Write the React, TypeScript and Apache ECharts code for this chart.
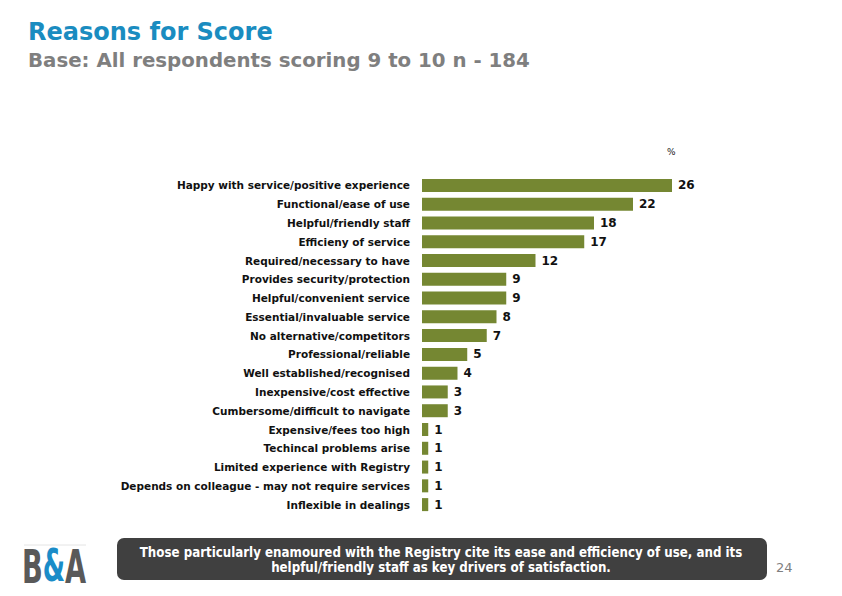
import React, { useEffect, useRef } from "react";
import * as echarts from "echarts";

const categories = [
  "Happy with service/positive experience",
  "Functional/ease of use",
  "Helpful/friendly staff",
  "Efficieny of service",
  "Required/necessary to have",
  "Provides security/protection",
  "Helpful/convenient service",
  "Essential/invaluable service",
  "No alternative/competitors",
  "Professional/reliable",
  "Well established/recognised",
  "Inexpensive/cost effective",
  "Cumbersome/difficult to navigate",
  "Expensive/fees too high",
  "Techincal problems arise",
  "Limited experience with Registry",
  "Depends on colleague - may not require services",
  "Inflexible in dealings",
];
const values = [26, 22, 18, 17, 12, 9, 9, 8, 7, 5, 4, 3, 3, 1, 1, 1, 1, 1];

const title = "Reasons for Score";
const subtitle = "Base: All respondents scoring 9 to 10 n - 184";
const unitLabel = "%";
const calloutLines = [
  "Those particularly enamoured with the Registry cite its ease and efficiency of use, and its",
  "helpful/friendly staff as key drivers of satisfaction.",
];
const pageNumber = "24";

const FONT = "Verdana, 'DejaVu Sans', sans-serif";
const COND = "'DejaVu Sans Condensed', 'DejaVu Sans', sans-serif";
const BAR = "#758732";

export default function App() {
  const ref = useRef<HTMLDivElement>(null);
  useEffect(() => {
    if (!ref.current) return;
    const chart = echarts.init(ref.current, undefined, { renderer: "svg" });
    chart.setOption({
      animation: false,
      backgroundColor: "#ffffff",
      grid: { left: 422, top: 176, width: 289, height: 338, containLabel: false },
      xAxis: {
        type: "value",
        min: 0.36,
        max: 30,
        show: false,
      },
      yAxis: {
        type: "category",
        data: categories,
        inverse: true,
        axisLine: { show: false },
        axisTick: { show: false },
        axisLabel: {
          margin: 12,
          fontFamily: FONT,
          fontSize: 10.5,
          fontWeight: "bold",
          color: "#111111",
        },
      },
      series: [
        {
          type: "bar",
          data: values,
          barWidth: 13,
          itemStyle: { color: BAR },
          label: {
            show: true,
            position: "right",
            distance: 6,
            fontFamily: FONT,
            fontSize: 12,
            fontWeight: "bold",
            color: "#111111",
          },
        },
      ],
      graphic: [
        {
          type: "text",
          left: 28,
          top: 20,
          style: { text: title, fontFamily: FONT, fontSize: 24, fontWeight: "bold", fill: "#1a8cc0" },
        },
        {
          type: "text",
          left: 28,
          top: 50,
          style: { text: subtitle, fontFamily: FONT, fontSize: 19.8, fontWeight: "bold", fill: "#7f7f7f" },
        },
        {
          type: "text",
          x: 667,
          y: 147,
          style: { text: unitLabel, fontFamily: FONT, fontSize: 9, fill: "#222222" },
        },
        {
          type: "rect",
          shape: { x: 117, y: 538, width: 650, height: 42, r: 7 },
          style: { fill: "#404040" },
        },
        {
          type: "text",
          x: 441,
          y: 552,
          style: {
            text: calloutLines[0],
            fontFamily: COND,
            fontSize: 13.2,
            fontWeight: "bold",
            fill: "#ffffff",
            align: "center",
            verticalAlign: "middle",
          },
        },
        {
          type: "text",
          x: 441,
          y: 567,
          style: {
            text: calloutLines[1],
            fontFamily: COND,
            fontSize: 13.2,
            fontWeight: "bold",
            fill: "#ffffff",
            align: "center",
            verticalAlign: "middle",
          },
        },
        {
          type: "text",
          x: 776,
          y: 567,
          style: { text: pageNumber, fontFamily: FONT, fontSize: 13, fill: "#7f7f7f", verticalAlign: "middle" },
        },
        {
          type: "line",
          shape: { x1: 24, y1: 545, x2: 86, y2: 545 },
          style: { stroke: "#e4e4e4", lineWidth: 1 },
        },
        {
          type: "text",
          x: 22,
          y: 566,
          scaleX: 0.58,
          style: {
            text: "{b|B}{a|&}{b|A}",
            verticalAlign: "middle",
            rich: {
              b: { fontFamily: FONT, fontSize: 47, fontWeight: "bold", fill: "#595959" },
              a: { fontFamily: FONT, fontSize: 44, fontWeight: "bold", fill: "#1a8cc8" },
            },
          },
        },
      ],
    });
    return () => chart.dispose();
  }, []);
  return <div ref={ref} style={{ width: 842, height: 596, position: "absolute", left: 0, top: 0 }} />;
}
